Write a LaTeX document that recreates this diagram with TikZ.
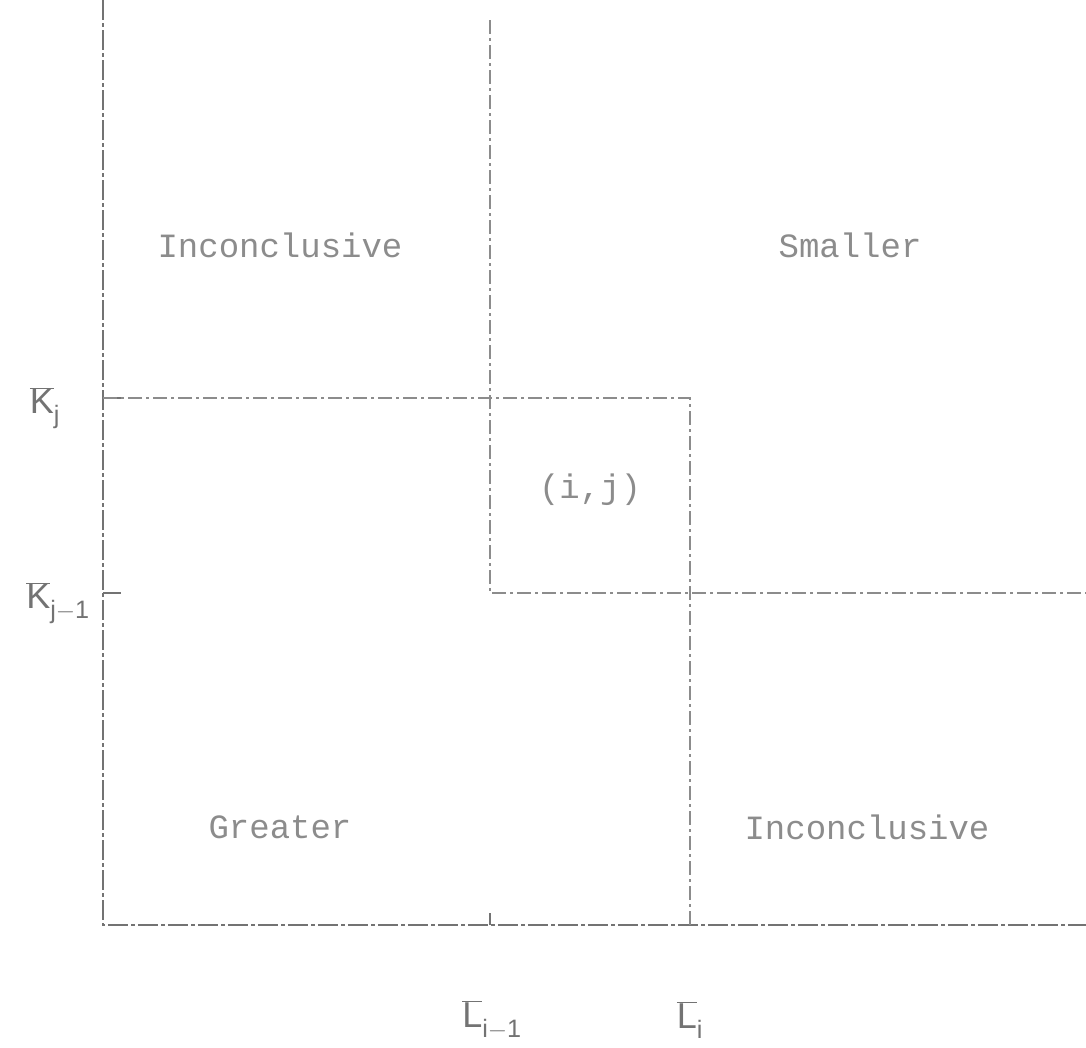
\documentclass[tikz,border=0pt]{standalone}
\usepackage{fontspec}
\setmonofont{Liberation Mono}
\setsansfont{Liberation Sans}
\begin{document}
\begin{tikzpicture}[x=1pt,y=-1pt,
  dd/.style={draw=black!45,line width=1.6pt,dash pattern=on 14pt off 4pt on 3pt off 4pt},
  ax/.style={draw=black!55,line width=2pt,dash pattern=on 20pt off 3pt on 4pt off 3pt},
  lbl/.style={text=black!45,font=\ttfamily\fontsize{34}{38}\selectfont},
  axl/.style={text=black!55,font=\sffamily\fontsize{36}{40}\selectfont}]
\useasboundingbox (0,0) rectangle (1086,1047);
\coordinate (O) at (103,925);
\coordinate (Top) at (103,0);
\coordinate (Right) at (1086,925);
\draw[ax] (Top) -- (O) -- (Right);
% ticks
\coordinate (kj) at (103,398);
\coordinate (kj1) at (103,593);
\draw[draw=black!55,line width=2pt] (kj) -- ++(18,0);
\draw[draw=black!55,line width=2pt] (kj1) -- ++(18,0);
\coordinate (li1) at (490,925);
\coordinate (li) at (690,925);
\draw[draw=black!55,line width=1.6pt] (li1) -- ++(0,-12);
\draw[draw=black!55,line width=1.6pt] (li) -- ++(0,-12);
% dash-dot lines
\coordinate (a) at (490,20);
\coordinate (b) at (490,593);
\coordinate (c) at (690,398);
\coordinate (d) at (1086,593);
\draw[dd] (kj) -- (c) -- (li);
\draw[dd] (a) -- (b) -- (d);
% labels
\node[lbl] (inc1) at (280,245) {Inconclusive};
\node[lbl] (sm) at (850,245) {Smaller};
\node[lbl] (ij) at (590,490) {(i,j)};
\node[lbl] (gr) at (280,827) {Greater};
\node[lbl] (inc2) at (867,827) {Inconclusive};
\node[axl] (Kj) at (45,408) {$\overline{\mathsf{K}}_{\mathsf{j}}$};
\node[axl] (Kj1) at (58,603) {$\overline{\mathsf{K}}_{\mathsf{j-1}}$};
\node[axl] (Li1) at (492,1020) {$\overline{\mathsf{L}}_{\mathsf{i-1}}$};
\node[axl] (Li) at (690,1020) {$\overline{\mathsf{L}}_{\mathsf{i}}$};
\end{tikzpicture}
\end{document}
